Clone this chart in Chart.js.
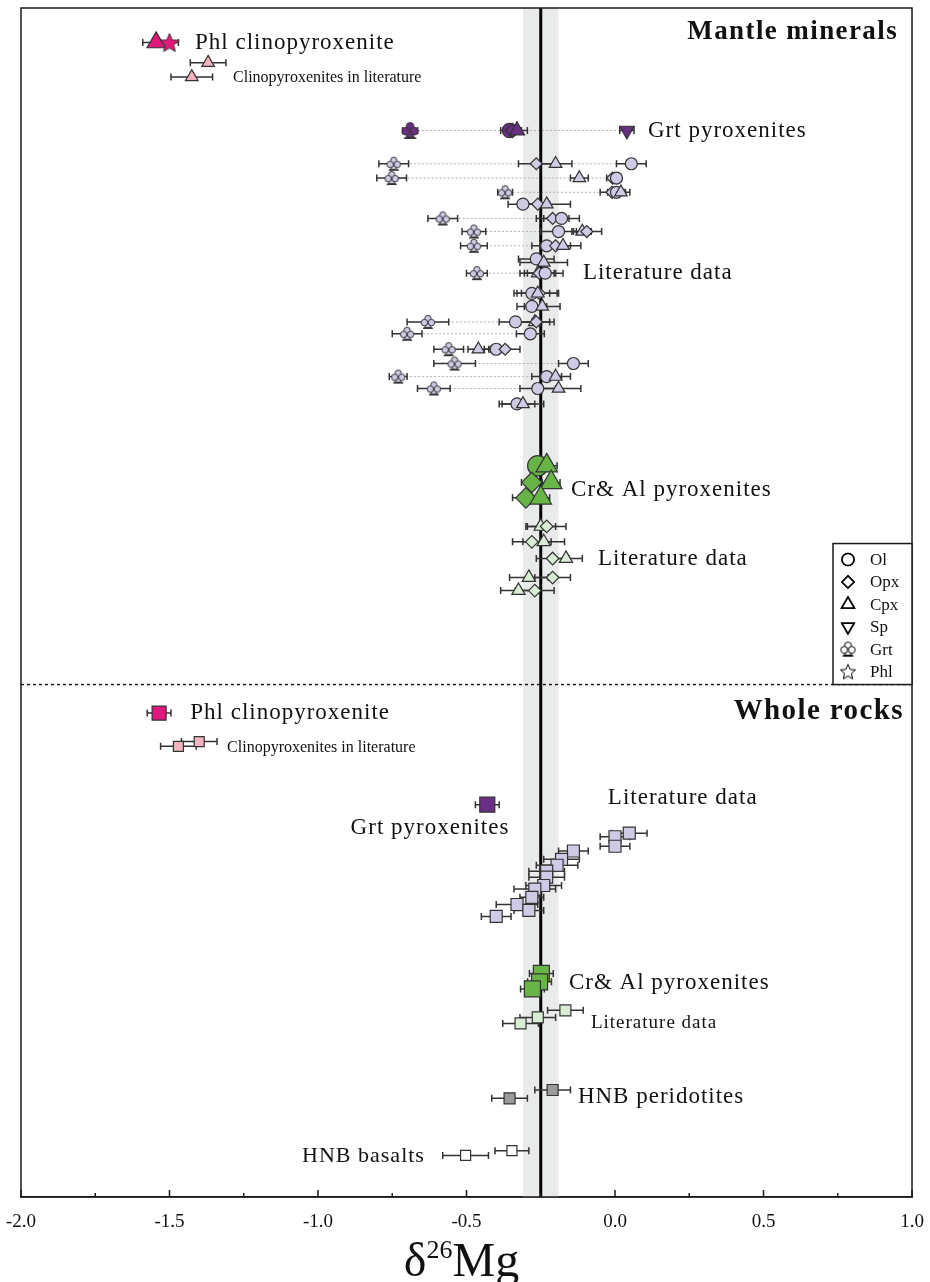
<!DOCTYPE html>
<html>
<head>
<meta charset="utf-8">
<script src="https://cdn.jsdelivr.net/npm/chart.js@4.4.1/dist/chart.umd.min.js"></script>
<style>
  html, body { margin: 0; padding: 0; background: #fff; }
  #wrap { width: 930px; height: 1282px; position: relative; }
</style>
</head>
<body>
<div id="wrap"><canvas id="chart"></canvas></div>
<script>
// ---------- axis ----------
const xMin = -2.0, xMax = 1.0;
const majorTicks = [-2.0, -1.5, -1.0, -0.5, 0.0, 0.5, 1.0];
const minorTicks = [-1.75, -1.25, -0.75, -0.25, 0.25, 0.75];
const tickLabels = majorTicks.map(v => v.toFixed(1));

// mantle reference value (vertical line) and its band
const mantleMean = -0.25;
const mantleBand = 0.06;

// vertical position of the dashed divider (rows run 0 = top .. 100 = bottom)
const dividerRow = 56.9;

// ---------- mantle minerals: [mineral, δ26Mg, 2SD, row] ----------
const phlMinerals = [
  ['cpx', -1.545, 0.045, 2.9],
  ['phl', -1.50, 0.03, 2.9]
];
const litCpxMinerals = [
  ['cpx', -1.37, 0.06, 4.6],
  ['cpx', -1.425, 0.07, 5.8]
];
const grtPyxMinerals = [
  ['grt', -0.69, 0.025, 10.3],
  ['ol', -0.355, 0.03, 10.3],
  ['opx', -0.345, 0.03, 10.3],
  ['cpx', -0.33, 0.035, 10.3],
  ['sp', 0.04, 0.024, 10.3]
];
const litMinerals = [
  ['grt', -0.745, 0.05, 13.1], ['opx', -0.265, 0.06, 13.1], ['cpx', -0.20, 0.055, 13.1], ['ol', 0.055, 0.05, 13.1],
  ['grt', -0.752, 0.05, 14.3], ['cpx', -0.12, 0.03, 14.3], ['opx', -0.008, 0.02, 14.3], ['ol', 0.005, 0.015, 14.3],
  ['grt', -0.37, 0.025, 15.5], ['opx', -0.01, 0.04, 15.5], ['ol', 0.005, 0.03, 15.5], ['cpx', 0.02, 0.03, 15.5],
  ['ol', -0.31, 0.05, 16.5], ['opx', -0.26, 0.04, 16.5], ['cpx', -0.23, 0.08, 16.5],
  ['grt', -0.58, 0.05, 17.7], ['opx', -0.21, 0.055, 17.7], ['ol', -0.18, 0.06, 17.7],
  ['grt', -0.475, 0.04, 18.8], ['ol', -0.19, 0.06, 18.8], ['cpx', -0.11, 0.03, 18.8], ['opx', -0.095, 0.05, 18.8],
  ['grt', -0.475, 0.045, 20.0], ['ol', -0.23, 0.05, 20.0], ['opx', -0.20, 0.05, 20.0], ['cpx', -0.175, 0.06, 20.0],
  ['ol', -0.265, 0.06, 21.1], ['cpx', -0.24, 0.08, 21.4],
  ['grt', -0.465, 0.035, 22.3], ['cpx', -0.26, 0.06, 22.3], ['opx', -0.255, 0.05, 22.3], ['ol', -0.235, 0.06, 22.3],
  ['ol', -0.28, 0.06, 24.0], ['opx', -0.255, 0.06, 24.0], ['cpx', -0.26, 0.07, 24.0],
  ['ol', -0.28, 0.05, 25.1], ['cpx', -0.245, 0.06, 25.1],
  ['grt', -0.63, 0.07, 26.4], ['ol', -0.335, 0.055, 26.4], ['cpx', -0.27, 0.05, 26.4], ['opx', -0.265, 0.06, 26.4],
  ['grt', -0.70, 0.05, 27.4], ['ol', -0.285, 0.047, 27.4],
  ['grt', -0.56, 0.05, 28.7], ['cpx', -0.46, 0.035, 28.7], ['ol', -0.40, 0.04, 28.7], ['opx', -0.37, 0.05, 28.7],
  ['grt', -0.54, 0.07, 29.9], ['ol', -0.14, 0.05, 29.9],
  ['grt', -0.73, 0.03, 31.0], ['ol', -0.23, 0.05, 31.0], ['cpx', -0.20, 0.05, 31.0],
  ['grt', -0.61, 0.055, 32.0], ['ol', -0.26, 0.06, 32.0], ['cpx', -0.19, 0.075, 32.0],
  ['ol', -0.33, 0.06, 33.3], ['cpx', -0.31, 0.07, 33.3]
];
const crAlMinerals = [
  ['ol', -0.26, 0.03, 38.5], ['cpx', -0.23, 0.035, 38.5],
  ['opx', -0.28, 0.035, 39.9], ['cpx', -0.215, 0.03, 39.9],
  ['opx', -0.30, 0.045, 41.2], ['cpx', -0.25, 0.03, 41.2]
];
const litCrAlMinerals = [
  ['cpx', -0.25, 0.05, 43.6], ['opx', -0.23, 0.065, 43.6],
  ['opx', -0.28, 0.065, 44.9], ['cpx', -0.24, 0.07, 44.9],
  ['opx', -0.21, 0.055, 46.3], ['cpx', -0.165, 0.055, 46.3],
  ['cpx', -0.29, 0.065, 47.9], ['opx', -0.21, 0.06, 47.9],
  ['cpx', -0.325, 0.06, 49.0], ['opx', -0.27, 0.065, 49.0]
];

// ---------- whole rocks: [δ26Mg, 2SD, row] ----------
const phlRocks = [[-1.535, 0.04, 59.3]];
const litCpxRocks = [[-1.40, 0.06, 61.7], [-1.47, 0.06, 62.1]];
const grtPyxRocks = [[-0.43, 0.04, 67.0]];
const litRocks = [
  [0.048, 0.06, 69.4], [0.0, 0.05, 69.7], [0.0, 0.05, 70.5], [-0.14, 0.05, 70.9],
  [-0.18, 0.06, 71.6], [-0.195, 0.07, 72.1], [-0.23, 0.06, 72.6], [-0.23, 0.06, 73.1],
  [-0.24, 0.06, 73.8], [-0.27, 0.07, 74.1], [-0.28, 0.04, 74.8], [-0.33, 0.07, 75.4],
  [-0.29, 0.05, 75.9], [-0.40, 0.05, 76.4]
];
const crAlRocks = [[-0.248, 0.04, 81.2], [-0.254, 0.04, 81.9], [-0.278, 0.04, 82.5]];
const litCrAlRocks = [[-0.167, 0.06, 84.3], [-0.26, 0.06, 84.9], [-0.318, 0.06, 85.4]];
const hnbPeridotites = [[-0.21, 0.06, 91.0], [-0.355, 0.06, 91.7]];
const hnbBasalts = [[-0.347, 0.057, 96.1], [-0.503, 0.077, 96.5]];

// ---------- text labels: [text, δ26Mg, row, size, align, spacing, bold] ----------
const labels = [
  ['Mantle minerals', 0.953, 2.0, 27, 'right', 1.4, true],
  ['Phl clinopyroxenite', -1.414, 2.9, 23, 'left', 1, false],
  ['Clinopyroxenites in literature', -1.286, 5.9, 16, 'left', 0, false],
  ['Grt pyroxenites', 0.111, 10.3, 23, 'left', 1, false],
  ['Literature data', -0.108, 22.3, 23, 'left', 1, false],
  ['Cr& Al pyroxenites', -0.148, 40.5, 23, 'left', 1, false],
  ['Literature data', -0.057, 46.3, 23, 'left', 1, false],
  ['Whole rocks', 0.973, 59.2, 29, 'right', 1.4, true],
  ['Phl clinopyroxenite', -1.43, 59.3, 23, 'left', 1, false],
  ['Clinopyroxenites in literature', -1.306, 62.2, 16, 'left', 0, false],
  ['Literature data', -0.024, 66.4, 23, 'left', 1, false],
  ['Grt pyroxenites', -0.623, 69.0, 23, 'center', 1, false],
  ['Cr& Al pyroxenites', -0.155, 82.0, 23, 'left', 1, false],
  ['Literature data', -0.081, 85.4, 19, 'left', 1, false],
  ['HNB peridotites', -0.125, 91.6, 23, 'left', 1, false],
  ['HNB basalts', -0.64, 96.6, 22, 'right', 1, false]
];

const legendItems = [['ol', 'Ol'], ['opx', 'Opx'], ['cpx', 'Cpx'], ['sp', 'Sp'], ['grt', 'Grt'], ['phl', 'Phl']];

const SERIF = '"Liberation Serif", "Times New Roman", serif';
const EDGE = '#333333';

// ---------- custom marker glyphs ----------
const glyphCache = {};
function clubGlyph(fill, stroke, s) {
  const key = 'club' + fill + stroke + s;
  if (glyphCache[key]) return glyphCache[key];
  const c = document.createElement('canvas');
  c.width = s + 2; c.height = s + 2;
  const g = c.getContext('2d');
  const cx = (s + 2) / 2, u = s / 14, o = 1;
  g.lineWidth = 1; g.strokeStyle = stroke; g.fillStyle = fill;
  g.beginPath();
  g.moveTo(cx - 3.5 * u, o + 12.6 * u); g.lineTo(cx + 3.5 * u, o + 12.6 * u); g.lineTo(cx, o + 7 * u);
  g.closePath(); g.fill(); g.stroke();
  [[0, 3.6], [-3.5, 7.6], [3.5, 7.6]].forEach(([dx, dy]) => {
    g.beginPath(); g.arc(cx + dx * u, o + dy * u, 3.2 * u, 0, Math.PI * 2); g.fill(); g.stroke();
  });
  g.fillStyle = stroke;
  g.fillRect(cx - 5 * u, o + 12.6 * u, 10 * u, 1.4 * u);
  glyphCache[key] = c;
  return c;
}
function starGlyph(fill, stroke, s) {
  const key = 'star' + fill + stroke + s;
  if (glyphCache[key]) return glyphCache[key];
  const c = document.createElement('canvas');
  c.width = s + 2; c.height = s + 2;
  const g = c.getContext('2d');
  const cx = (s + 2) / 2, cy = (s + 2) / 2 + s * 0.05, R = s / 2, r = R * 0.45;
  g.beginPath();
  for (let i = 0; i < 10; i++) {
    const rad = -Math.PI / 2 + i * Math.PI / 5, rr = i % 2 ? r : R;
    const px = cx + Math.cos(rad) * rr, py = cy + Math.sin(rad) * rr;
    i ? g.lineTo(px, py) : g.moveTo(px, py);
  }
  g.closePath();
  g.fillStyle = fill; g.strokeStyle = stroke; g.lineWidth = 1;
  g.fill(); g.stroke();
  glyphCache[key] = c;
  return c;
}

// marker shape per mineral; k scales the size
function markerFor(m, fill, k) {
  switch (m) {
    case 'ol': return { style: 'circle', r: 6 * k, rot: 0 };
    case 'opx': return { style: 'rectRot', r: 6 * k, rot: 0 };
    case 'cpx': return { style: 'triangle', r: 7.3 * k, rot: 0 };
    case 'sp': return { style: 'triangle', r: 7 * k, rot: 180 };
    case 'grt': return { style: clubGlyph(fill, EDGE, Math.round(14 * k)), r: 6 * k, rot: 0 };
    case 'phl': return { style: starGlyph(fill, EDGE, Math.round(14 * k)), r: 7 * k, rot: 0 };
    default: return { style: 'rect', r: 8.5 * k, rot: 0 };
  }
}

function mineralSet(rows, fill, k, connect) {
  return {
    data: rows.map(([m, x, e, y]) => ({ x, y, e, m })),
    backgroundColor: fill,
    borderColor: EDGE,
    borderWidth: 1.2,
    connect: connect,
    pointStyle: c => markerFor(c.raw.m, fill, k).style,
    pointRadius: c => markerFor(c.raw.m, fill, k).r,
    pointRotation: c => markerFor(c.raw.m, fill, k).rot
  };
}
function rockSet(rows, fill, side) {
  return {
    data: rows.map(([x, e, y]) => ({ x, y, e, m: 'rock' })),
    backgroundColor: fill,
    borderColor: EDGE,
    borderWidth: 1.2,
    pointStyle: 'rect',
    pointRadius: side / Math.SQRT2
  };
}

const datasets = [
  mineralSet(phlMinerals, '#e2177c', 1.45, false),
  mineralSet(litCpxMinerals, '#f3b4c0', 1.0, false),
  mineralSet(grtPyxMinerals, '#6a2e84', 1.2, true),
  mineralSet(litMinerals, '#cfcbe6', 1.0, true),
  mineralSet(crAlMinerals, '#66b546', 1.7, false),
  mineralSet(litCrAlMinerals, '#d9edd5', 1.05, false),
  rockSet(phlRocks, '#e2177c', 14),
  rockSet(litCpxRocks, '#f3b4c0', 10),
  rockSet(grtPyxRocks, '#6a2e84', 15),
  rockSet(litRocks, '#cfcbe6', 12),
  rockSet(crAlRocks, '#66b546', 16),
  rockSet(litCrAlRocks, '#d9edd5', 11),
  rockSet(hnbPeridotites, '#9a9a9a', 11),
  rockSet(hnbBasalts, '#ffffff', 10)
];

// ---------- drawing of reference band, error bars, frame, labels, legend ----------
const decor = {
  id: 'decor',
  beforeDatasetsDraw(chart) {
    const { ctx, chartArea: a, scales: { x: xs, y: ys } } = chart;
    ctx.save();
    // band around the mantle value
    const b1 = xs.getPixelForValue(mantleMean - mantleBand);
    const b2 = xs.getPixelForValue(mantleMean + mantleBand);
    ctx.fillStyle = '#e9ebea';
    ctx.fillRect(b1, a.top, b2 - b1, a.bottom - a.top);

    // dashed divider between the two panels
    const dy = ys.getPixelForValue(dividerRow);
    ctx.setLineDash([3, 3]);
    ctx.strokeStyle = '#111';
    ctx.lineWidth = 1.4;
    ctx.beginPath(); ctx.moveTo(a.left, dy); ctx.lineTo(a.right, dy); ctx.stroke();

    // dotted tie lines from garnet to the other minerals of the same sample
    ctx.setLineDash([2, 2]);
    ctx.strokeStyle = '#b3b3b3';
    ctx.lineWidth = 1;
    chart.data.datasets.forEach(ds => {
      if (!ds.connect) return;
      const rows = {};
      ds.data.forEach(p => { (rows[p.y] = rows[p.y] || []).push(p); });
      Object.values(rows).forEach(pts => {
        const g = pts.find(p => p.m === 'grt');
        if (!g) return;
        const far = Math.max(...pts.filter(p => p !== g).map(p => p.x));
        const py = ys.getPixelForValue(g.y);
        ctx.beginPath();
        ctx.moveTo(xs.getPixelForValue(g.x), py);
        ctx.lineTo(xs.getPixelForValue(far), py);
        ctx.stroke();
      });
    });
    ctx.setLineDash([]);

    // mantle reference line
    const mx = xs.getPixelForValue(mantleMean);
    ctx.strokeStyle = '#000';
    ctx.lineWidth = 3;
    ctx.beginPath(); ctx.moveTo(mx, a.top); ctx.lineTo(mx, a.bottom); ctx.stroke();

    // 2SD error bars
    ctx.strokeStyle = EDGE;
    ctx.lineWidth = 1.5;
    chart.data.datasets.forEach(ds => {
      ds.data.forEach(p => {
        const x1 = xs.getPixelForValue(p.x - p.e), x2 = xs.getPixelForValue(p.x + p.e);
        const py = ys.getPixelForValue(p.y);
        ctx.beginPath();
        ctx.moveTo(x1, py); ctx.lineTo(x2, py);
        ctx.moveTo(x1, py - 3.5); ctx.lineTo(x1, py + 3.5);
        ctx.moveTo(x2, py - 3.5); ctx.lineTo(x2, py + 3.5);
        ctx.stroke();
      });
    });
    ctx.restore();
  },
  afterDatasetsDraw(chart) {
    const { ctx, chartArea: a, scales: { x: xs, y: ys } } = chart;
    ctx.save();
    // frame
    ctx.strokeStyle = '#1a1a1a';
    ctx.lineWidth = 1.5;
    ctx.strokeRect(a.left, a.top, a.right - a.left, a.bottom - a.top);

    // inward ticks
    ctx.beginPath();
    majorTicks.forEach(v => { const px = xs.getPixelForValue(v); ctx.moveTo(px, a.bottom); ctx.lineTo(px, a.bottom - 7); });
    minorTicks.forEach(v => { const px = xs.getPixelForValue(v); ctx.moveTo(px, a.bottom); ctx.lineTo(px, a.bottom - 4); });
    ctx.stroke();

    // tick labels
    ctx.fillStyle = '#111';
    ctx.font = '19px ' + SERIF;
    ctx.textAlign = 'center';
    ctx.textBaseline = 'middle';
    majorTicks.forEach((v, i) => ctx.fillText(tickLabels[i], xs.getPixelForValue(v), a.bottom + 25));

    // annotations
    labels.forEach(([t, x, y, size, align, sp, bold]) => {
      ctx.font = (bold ? 'bold ' : '') + size + 'px ' + SERIF;
      ctx.letterSpacing = sp + 'px';
      ctx.textAlign = align;
      ctx.fillText(t, xs.getPixelForValue(x), ys.getPixelForValue(y));
    });
    ctx.letterSpacing = '0px';

    // legend box
    const lw = 79, lh = 141;
    const lx = a.right - lw, ly = ys.getPixelForValue(dividerRow) - lh;
    ctx.fillStyle = '#fff';
    ctx.fillRect(lx, ly, lw, lh);
    ctx.strokeStyle = '#1a1a1a';
    ctx.lineWidth = 1.5;
    ctx.strokeRect(lx, ly, lw, lh);
    ctx.font = '17px ' + SERIF;
    ctx.textAlign = 'left';
    legendItems.forEach(([m, name], i) => {
      const cy = ly + 16 + i * 22.4;
      const mk = markerFor(m, '#ffffff', 1);
      if (typeof mk.style === 'string') {
        ctx.fillStyle = '#fff'; ctx.strokeStyle = '#000'; ctx.lineWidth = 1.6;
        Chart.helpers.drawPoint(ctx, { pointStyle: mk.style, radius: mk.r, rotation: mk.rot, borderWidth: 1.6 }, lx + 15, cy);
        ctx.fill(); ctx.stroke();
      } else {
        const img = m === 'grt' ? clubGlyph('#ffffff', '#000', 15) : starGlyph('#ffffff', '#000', 16);
        ctx.drawImage(img, lx + 15 - img.width / 2, cy - img.height / 2);
      }
      ctx.fillStyle = '#111';
      ctx.fillText(name, lx + 37, cy + 1);
    });

    // axis title δ26Mg
    const base = 1276;
    const big = '48px ' + SERIF, small = '26px ' + SERIF;
    ctx.font = big; const wd = ctx.measureText('δ').width, wm = ctx.measureText('Mg').width;
    ctx.font = small; const ws = ctx.measureText('26').width;
    let tx = (a.left + a.right) / 2 - 5 - (wd + ws + wm) / 2;
    ctx.textBaseline = 'alphabetic';
    ctx.fillStyle = '#111';
    ctx.font = big; ctx.fillText('δ', tx, base); tx += wd;
    ctx.font = small; ctx.fillText('26', tx, base - 18); tx += ws;
    ctx.font = big; ctx.fillText('Mg', tx, base);
    ctx.restore();
  }
};

new Chart(document.getElementById('chart'), {
  type: 'scatter',
  data: { datasets },
  options: {
    responsive: true,
    maintainAspectRatio: false,
    animation: false,
    events: [],
    layout: { autoPadding: false, padding: { left: 21, right: 18, top: 8, bottom: 85 } },
    plugins: { legend: { display: false }, tooltip: { enabled: false } },
    scales: {
      x: {
        type: 'linear', min: xMin, max: xMax, position: 'bottom',
        afterBuildTicks: s => { s.ticks = majorTicks.map(v => ({ value: v })); },
        grid: { display: false, drawTicks: false },
        border: { display: true, color: '#1a1a1a', width: 1.5 },
        ticks: { display: false }
      },
      y: { type: 'linear', min: 0, max: 100, reverse: true, display: false }
    }
  },
  plugins: [decor]
});
</script>
</body>
</html>
